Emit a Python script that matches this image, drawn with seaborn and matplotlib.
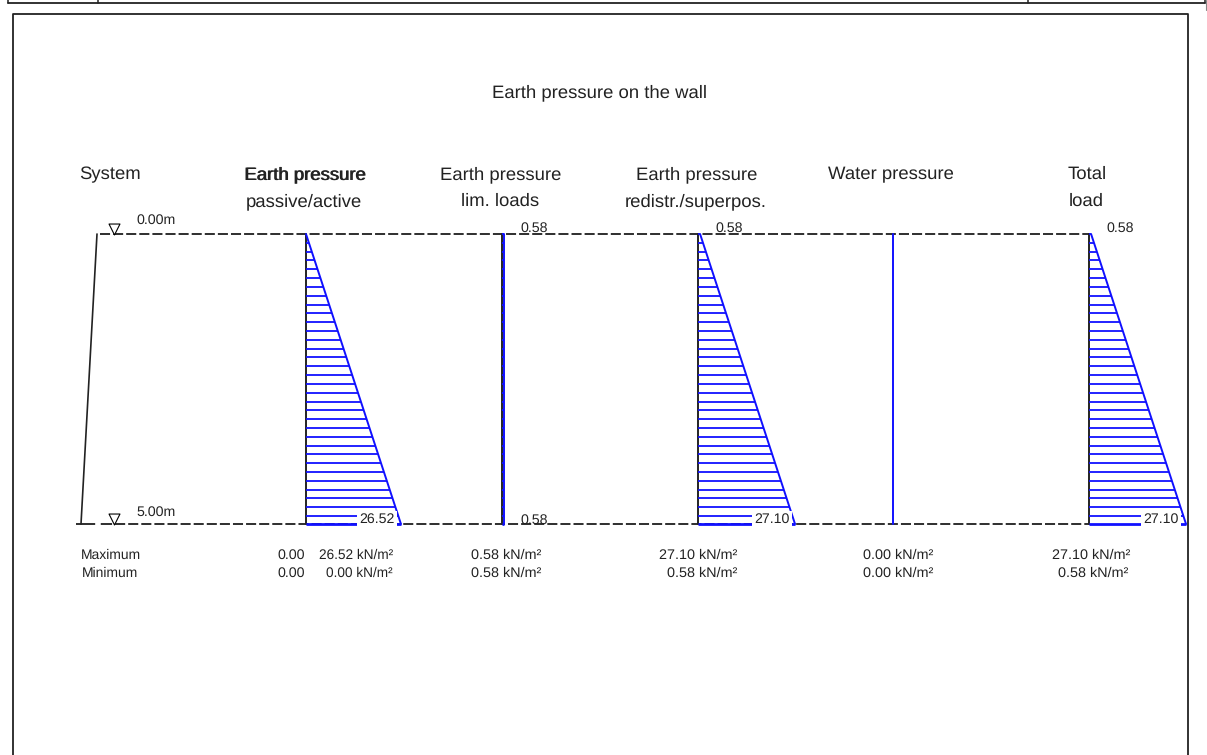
import numpy as np
import pandas as pd
import seaborn as sns
import matplotlib.pyplot as plt

sns.set_style('white')
plt.rcParams['font.family'] = ['Liberation Sans', 'DejaVu Sans']
plt.rcParams['text.hinting'] = 'no_hinting'

W, H = 1207, 755
INK = '#222222'
BLUE = '#1010ff'

# depth levels of the wall (m)
depth = [0.0, 5.0]
level_labels = ['0.00m', '5.00m']

# pressure diagrams, kN/m2 at top and bottom
active = [0.0, 26.52]
limit = [0.58, 0.58]
redistr = [0.58, 27.10]
water = [0.0, 0.0]
total = [0.58, 27.10]

maximum = [26.52, 0.58, 27.10, 0.00, 27.10]
minimum = [0.00, 0.58, 0.58, 0.00, 0.58]

headers = [('Earth pressure', 'passive/active', 305),
           ('Earth pressure', 'lim. loads', 501),
           ('Earth pressure', 'redistr./superpos.', 697),
           ('Water pressure', '', 891),
           ('Total', 'load', 1087)]

fig = plt.figure(figsize=(W / 100, H / 100), dpi=100)


def pixel_axes():
    a = fig.add_axes([0, 0, 1, 1])
    a.patch.set_alpha(0)
    a.set_xlim(0, W)
    a.set_ylim(H, 0)
    a.axis('off')
    return a


# page layer, in screen pixels
page = pixel_axes()

# report frame and the strip of the table above it
page.plot([13, 13, 1188, 1188], [755, 14, 14, 755], color=INK, lw=1.3)
page.plot([8, 1205], [3, 3], color=INK, lw=1.3)
for x in [8, 98, 1028, 1205]:
    page.plot([x, x], [0, 3], color=INK, lw=1.1)
page.plot([1206, 1206], [0, 10], color='#888888', lw=0.8)

TOP, BOTTOM = 234, 524
PX_PER_KN = 3.58
PANEL_W = 110
bases = [306, 502, 698, 893, 1089]
series = [active, limit, redistr, water, total]

# depth lines and the wall
page.plot([100, 1090], [TOP, TOP], color='black', lw=1.15, dashes=(6.3, 1.9))
page.plot([102, 1090], [BOTTOM, BOTTOM], color='black', lw=1.15, dashes=(6.3, 1.9))
page.plot([76, 102], [BOTTOM, BOTTOM], color='black', lw=1.15, dashes=(12, 3.5, 5, 3))
page.plot([97, 81], [TOP, BOTTOM], color=INK, lw=1.2)
page.scatter([114, 114], [TOP - 5, BOTTOM - 5], marker='v', s=62, facecolor='white',
             edgecolor='black', linewidth=0.8, zorder=4)

# one axes per diagram so pressure and depth go through real scales
for base, values in zip(bases, series):
    ax = fig.add_axes([base / W, 1 - BOTTOM / H, PANEL_W / W, (BOTTOM - TOP) / H])
    ax.patch.set_alpha(0)
    ax.set_xlim(0, PANEL_W / PX_PER_KN)
    ax.set_ylim(depth[1], depth[0])
    ax.axis('off')
    if base != 893:
        ax.plot([0, 0], depth, color=INK, lw=1.4, clip_on=False)
    df = pd.DataFrame({'p': values, 'z': depth})
    sns.lineplot(data=df, x='p', y='z', color=BLUE, lw=1.4, sort=False, estimator=None,
                 ax=ax, legend=False)
    ax.lines[-1].set_clip_on(False)
    ax.set_xlabel('')
    ax.set_ylabel('')
    if max(values) > 0:
        rows = np.arange(depth[0], depth[1] + 0.01, 0.152)
        ends = np.interp(rows, depth, values)
        ax.hlines(rows, 0, ends, color=BLUE, lw=1.3, clip_on=False)
        ax.hlines([depth[1]], 0, values[1], color=BLUE, lw=2, clip_on=False)

# text goes on top of the diagrams
labels = pixel_axes()

HEAD = 13.3
labels.text(599, 97, 'Earth pressure on the wall', ha='center', va='baseline', fontsize=HEAD, color=INK)
labels.text(79, 179, 'System', ha='left', va='baseline', fontsize=HEAD, color=INK)
for i, (h1, h2, x) in enumerate(headers):
    labels.text(x, 179, h1, ha='center', va='baseline', fontsize=HEAD, color=INK)
    if i == 0:
        labels.text(x + 0.5, 179, h1, ha='center', va='baseline', fontsize=HEAD, color=INK)
    if h2:
        labels.text(x - 1, 206, h2, ha='center', va='baseline', fontsize=HEAD, color=INK)

# level and peak labels
SMALL = 10.2
for y, txt in zip([224, 516], level_labels):
    labels.text(136, y, txt, ha='left', va='baseline', fontsize=SMALL, color=INK)

box = dict(facecolor='white', edgecolor='none', pad=1.5)
peak_labels = [(534, 232, limit[0]), (729, 232, redistr[0]), (1120, 232, total[0]),
               (534, 524, limit[1])]
for x, y, v in peak_labels:
    labels.text(x, y, f'{v:.2f}', ha='center', va='baseline', fontsize=SMALL, color=INK)
for x, v in zip([377, 772, 1161], [active[1], redistr[1], total[1]]):
    labels.text(x, 523, f'{v:.2f}', ha='center', va='baseline', fontsize=SMALL, color=INK, bbox=box)

# summary rows
labels.text(81, 559, 'Maximum', ha='left', va='baseline', fontsize=10, color=INK)
labels.text(82, 577, 'Minimum', ha='left', va='baseline', fontsize=10, color=INK)
for y in [559, 577]:
    labels.text(305, y, '0.00', ha='right', va='baseline', fontsize=SMALL, color=INK)
right_edges = [393, 541, 737, 933, 1130]
for i, (x, hi, lo) in enumerate(zip(right_edges, maximum, minimum)):
    size = 9.8 if i == 0 else 10.4
    labels.text(x, 559, f'{hi:.2f} kN/m²', ha='right', va='baseline', fontsize=size, color=INK)
    labels.text(x - 2 if x == 1130 else x, 577, f'{lo:.2f} kN/m²', ha='right', va='baseline',
                fontsize=size, color=INK)

fig.savefig('out.png', dpi=100)
